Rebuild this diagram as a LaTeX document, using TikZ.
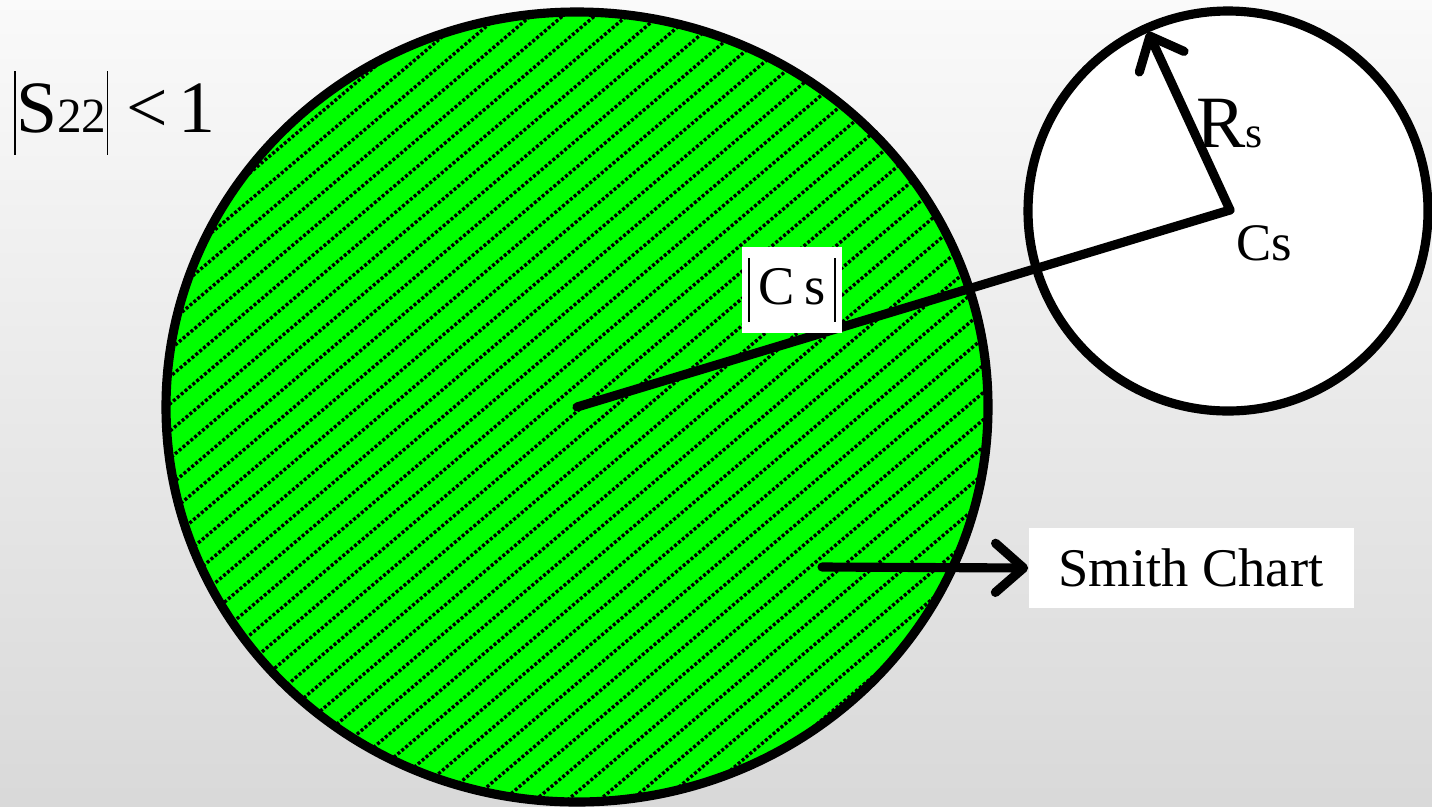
\documentclass[tikz,border=0pt]{standalone}
\usepackage{fontspec}
\setmainfont{Liberation Serif}
\newfontfamily\timesfont{Liberation Serif}
\usetikzlibrary{arrows.meta}
\newcommand{\nbar}[2]{\vrule width 1.1pt height #1 depth #2}

\begin{document}
\begin{tikzpicture}[
    x=0.02cm, y=-0.02cm,
    thickline/.style={line width=5.2pt, line cap=round, line join=round},
    barbtip/.style={-{Straight Barb[length=16pt, width=28pt, line cap=round, line join=round]}},
    whitebox/.style={fill=white, inner sep=0pt},
    hatchline/.style={line width=1.9pt, dash pattern=on 1.7pt off 1.2pt},
    plainlabel/.style={anchor=base west, inner sep=0pt}
]
    % background
    \useasboundingbox (0,0) rectangle (1432,806);
    \shade[top color=black!2, bottom color=black!15] (0,0) rectangle (1432,806);

    % Smith chart, hatched
    \coordinate (org) at (577,407);
    \fill[green] (org) ellipse [x radius=411, y radius=395];
    \begin{scope}
        \clip (org) ellipse [x radius=411, y radius=395];
        \foreach \c in {-1024,-992,...,1000}
            \draw[hatchline] (\c,820) -- ++(989,-840);
    \end{scope}
    \draw[thickline] (org) ellipse [x radius=411, y radius=395];

    % stability circle
    \draw[thickline, fill=white] (1228,211) circle [radius=200];
    \coordinate (cs) at (1230,210);
    \coordinate (rtip) at (1148,32);
    \draw[thickline] (org) -- (cs);
    \draw[thickline, barbtip] (cs) -- (rtip);

    % labels
    \node[plainlabel, font=\timesfont\fontsize{42}{50}\selectfont] (stab) at (14,132)
        {\nbar{35pt}{13pt}S{\fontsize{28}{32}\selectfont 22}\nbar{35pt}{13pt}\hspace{10pt}<\hspace{6pt}1};
    \node[plainlabel, font=\timesfont\fontsize{42}{50}\selectfont] (rs) at (1196,147)
        {R{\fontsize{25}{30}\selectfont s}};
    \node[plainlabel, font=\timesfont\fontsize{30}{36}\selectfont] (cslbl) at (1236,260) {Cs};
    \node[whitebox, minimum width=57pt, minimum height=49pt, font=\timesfont\fontsize{31}{37}\selectfont] (abscs) at (792,290)
        {\nbar{26.6pt}{9.6pt}\,C\,s\,\nbar{26.6pt}{9.6pt}};

    % Smith chart pointer
    \node[whitebox, minimum width=185pt, minimum height=45pt, font=\timesfont\fontsize{31}{37}\selectfont] (smith) at (1191,568) {Smith Chart};
    \coordinate (sarr) at (822,567);
    \draw[thickline, barbtip] (sarr) -- (smith.west);
\end{tikzpicture}
\end{document}
